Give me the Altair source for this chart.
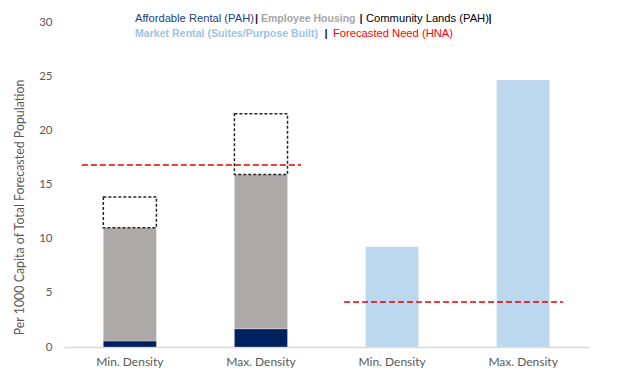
import altair as alt
import pandas as pd

# ---- data ----
categories = ["Min. Density|PAH", "Max. Density|PAH", "Min. Density|Market", "Max. Density|Market"]
affordable = [0.55, 1.68, 0.0, 0.0]
employee = [10.45, 14.25, 0.0, 0.0]
community = [2.85, 5.6, 0.0, 0.0]
market = [0.0, 0.0, 9.25, 24.65]
need_from = ["Min. Density|PAH", "Min. Density|Market"]
need_to = ["Max. Density|PAH", "Max. Density|Market"]
need_values = [16.8, 4.15]

series_names = ["Affordable Rental (PAH)", "Employee Housing", "Market Rental"]
series_colors = ["#002060", "#aeaaaa", "#bdd7ee"]

rows = []
for i, c in enumerate(categories):
    for k, (name, vals) in enumerate(zip(series_names, [affordable, employee, market])):
        if vals[i] > 0:
            rows.append({"cat": c, "series": name, "value": vals[i], "order": k})
filled = pd.DataFrame(rows)

comm_rows = []
for i, c in enumerate(categories):
    if community[i] > 0:
        base = affordable[i] + employee[i]
        comm_rows.append({"cat": c, "base": base, "top": base + community[i]})
comm = pd.DataFrame(comm_rows)

need = pd.DataFrame({"from": need_from, "to": need_to, "value": need_values})

FONT = "Lato"
xscale = alt.Scale(domain=categories, paddingInner=0.595, paddingOuter=0.3)
yscale = alt.Scale(domain=[0, 30])

x_axis = alt.Axis(
    title=None, labelExpr="split(datum.label, '|')[0]", labelAngle=0,
    domainColor="#d9d9d9", domainWidth=1.5, ticks=False, labelPadding=9,
    labelFont=FONT, labelFontSize=12, labelColor="#595959",
)
y_axis = alt.Axis(
    title="Per 1000 Capita of Total Forecasted Population", values=[0, 5, 10, 15, 20, 25, 30],
    grid=False, domain=False, ticks=False, labelPadding=12,
    labelFont=FONT, labelFontSize=11.5, labelColor="#595959",
    titleFont=FONT, titleFontSize=12.4, titleColor="#595959", titleFontWeight="normal",
    titlePadding=12, titleY=185,
)

bars = alt.Chart(filled).mark_bar(stroke="white", strokeWidth=0.5, strokeOpacity=0.5).encode(
    x=alt.X("cat:N", scale=xscale, axis=x_axis, sort=categories),
    y=alt.Y("value:Q", stack="zero", scale=yscale, axis=y_axis),
    color=alt.Color("series:N", scale=alt.Scale(domain=series_names, range=series_colors), legend=None),
    order=alt.Order("order:Q"),
)

boxes = alt.Chart(comm).mark_bar(
    fill=None, stroke="#262626", strokeWidth=1.5, strokeDash=[3, 2]
).encode(
    x=alt.X("cat:N", scale=xscale, sort=categories),
    y=alt.Y("base:Q", scale=yscale),
    y2="top:Q",
)

rules = alt.Chart(need).mark_rule(
    color="#e00000", strokeWidth=1.5, strokeDash=[6, 3], xOffset=-48, x2Offset=40
).encode(
    x=alt.X("from:N", scale=xscale, bandPosition=0.5),
    x2="to:N",
    y=alt.Y("value:Q", scale=yscale),
)

def seg(text, color, x, y, align="left", weight="normal", size=11.2):
    return alt.Chart(pd.DataFrame({"t": [text]})).mark_text(
        font="Liberation Sans", fontSize=size, color=color, align=align,
        baseline="middle", fontWeight=weight,
    ).encode(text="t:N", x=alt.value(x), y=alt.value(y))

legend = [
    seg("Affordable Rental (PAH)", "#203f80", 71, -3),
    seg("|", "#262626", 192.5, -3, "center", "bold"),
    seg("Employee  Housing", "#a6a6a6", 197, -3, weight="bold", size=10.5),
    seg("|", "#262626", 297, -3, "center", "bold"),
    seg("Community Lands (PAH)", "#000000", 302, -3),
    seg("|", "#262626", 426, -3, "center", "bold"),
    seg("Market  Rental (Suites/Purpose Built)", "#9dc3e6", 71, 11.5, weight="bold", size=10.6),
    seg("|", "#262626", 262, 11.5, "center", "bold"),
    seg("Forecasted Need (HNA)", "#ff0000", 269, 11.5),
]

chart = alt.layer(bars, boxes, rules, *legend).properties(
    width=525, height=325,
    autosize=alt.AutoSizeParams(type="none"),
    padding={"left": 56, "top": 14, "right": 23, "bottom": 26},
).configure_view(stroke=None)

chart.save("out.html", embed_options={"renderer": "svg", "actions": False})
